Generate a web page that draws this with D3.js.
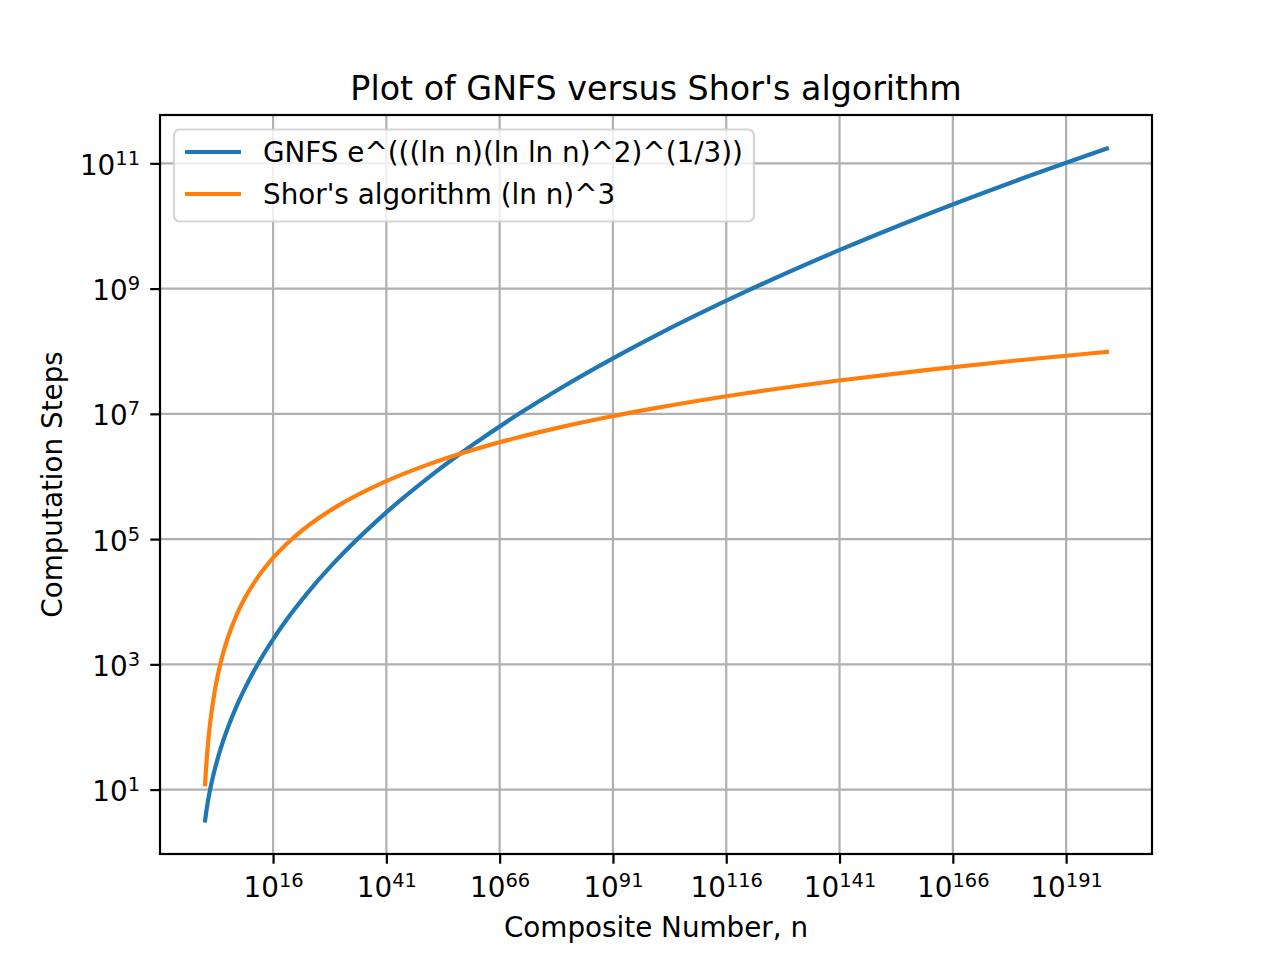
<!DOCTYPE html>
<html>
<head>
<meta charset="utf-8">
<script src="https://cdn.jsdelivr.net/npm/d3@7"></script>
<style>
  body { margin: 0; background: #fff; }
  svg { font-family: 'DejaVu Sans', sans-serif; }
</style>
</head>
<body>
<svg id="chart" width="1280" height="960"></svg>
<script>
// n = 10^k, k listed here
const nExponents = [1, 1.2, 1.5, 2, 3, 4, 5, 6, 8, 10, 13, 16, 20, 25, 30, 40, 50, 60, 70, 80, 90, 100, 120, 140, 160, 180, 200];
const gnfsSteps = [3.22, 4.13, 5.71, 9.08, 19.2, 35.4, 60.2, 96.2, 219, 444,
  1.12e3, 2.50e3, 6.46e3, 1.83e4, 4.61e4, 2.31e5, 9.25e5, 3.17e6, 9.73e6, 2.71e7,
  7.01e7, 1.71e8, 8.75e8, 3.85e9, 1.50e10, 5.28e10, 1.72e11];
const shorSteps = [12.2, 21.1, 41.2, 97.7, 330, 782, 1527, 2636, 6252, 1.22e4,
  2.68e4, 5.00e4, 9.77e4, 1.91e5, 3.30e5, 7.82e5, 1.53e6, 2.64e6, 4.19e6, 6.25e6,
  8.89e6, 1.22e7, 2.11e7, 3.35e7, 5.00e7, 7.11e7, 9.77e7];
const seriesNames = ['GNFS e^(((ln n)(ln ln n)^2)^(1/3))', "Shor's algorithm (ln n)^3"];
const xTickExponents = [16, 41, 66, 91, 116, 141, 166, 191];
const yTickExponents = [1, 3, 5, 7, 9, 11];

const COLORS = ['#1f77b4', '#ff7f0e'];
const plotLeft = 160, plotRight = 1152, plotTop = 115, plotBottom = 854;
const fontSize = 27.8;
const tickLen = 9.7;
const gridColor = '#b0b0b0';

const svg = d3.select('#chart');
svg.append('rect').attr('width', 1280).attr('height', 960).attr('fill', '#fff');

// matplotlib style 5% margins in log space
function paddedLogDomain(vals) {
  let [lo, hi] = d3.extent(vals.map((v) => Math.log10(v)));
  let m = (hi - lo) * 0.05;
  return [Math.pow(10, lo - m), Math.pow(10, hi + m)];
}

const nValues = nExponents.map((k) => Math.pow(10, k));
const x = d3.scaleLog()
  .domain(paddedLogDomain(nValues))
  .range([plotLeft, plotRight]);
const y = d3.scaleLog()
  .domain(paddedLogDomain(gnfsSteps.concat(shorSteps)))
  .range([plotBottom, plotTop]);

// grid
const grid = svg.append('g')
  .attr('stroke', gridColor)
  .attr('stroke-width', 2.2);
xTickExponents.forEach((e) => {
  grid.append('line')
    .attr('x1', x(Math.pow(10, e))).attr('x2', x(Math.pow(10, e)))
    .attr('y1', plotTop).attr('y2', plotBottom);
});
yTickExponents.forEach((e) => {
  grid.append('line')
    .attr('x1', plotLeft).attr('x2', plotRight)
    .attr('y1', y(Math.pow(10, e))).attr('y2', y(Math.pow(10, e)));
});

// curves
const line = d3.line()
  .x((d) => x(d[0]))
  .y((d) => y(d[1]))
  .curve(d3.curveMonotoneX);
[gnfsSteps, shorSteps].forEach((steps, i) => {
  svg.append('path')
    .datum(nValues.map((n, j) => [n, steps[j]]))
    .attr('fill', 'none')
    .attr('stroke', COLORS[i])
    .attr('stroke-width', 4.2)
    .attr('stroke-linecap', 'square')
    .attr('d', line);
});

// power-of-ten tick label
function powerLabel(sel) {
  sel.each(function (d) {
    let t = d3.select(this);
    let e = Math.round(Math.log10(d));
    t.text('');
    t.append('tspan').text('10');
    t.append('tspan')
      .attr('dy', -10)
      .attr('font-size', fontSize * 0.7)
      .text(e);
  });
}

const xAxis = svg.append('g')
  .attr('transform', `translate(0,${plotBottom})`)
  .call(d3.axisBottom(x)
    .tickValues(xTickExponents.map((e) => Math.pow(10, e)))
    .tickSize(tickLen));
xAxis.select('.domain').remove();
xAxis.selectAll('.tick line').attr('stroke', '#000').attr('stroke-width', 2.2);
xAxis.selectAll('.tick text')
  .attr('fill', '#000')
  .attr('font-size', fontSize)
  .attr('font-family', 'DejaVu Sans')
  .attr('y', 43)
  .attr('dy', 0)
  .call(powerLabel);

const yAxis = svg.append('g')
  .attr('transform', `translate(${plotLeft},0)`)
  .call(d3.axisLeft(y)
    .tickValues(yTickExponents.map((e) => Math.pow(10, e)))
    .tickSize(tickLen)
    .tickPadding(10));
yAxis.select('.domain').remove();
yAxis.selectAll('.tick line').attr('stroke', '#000').attr('stroke-width', 2.2);
yAxis.selectAll('.tick text')
  .attr('fill', '#000')
  .attr('font-size', fontSize)
  .attr('font-family', 'DejaVu Sans')
  .attr('x', -20)
  .attr('dy', 11)
  .call(powerLabel);

// spines
svg.append('rect')
  .attr('x', plotLeft).attr('y', plotTop)
  .attr('width', plotRight - plotLeft).attr('height', plotBottom - plotTop)
  .attr('fill', 'none')
  .attr('stroke', '#000')
  .attr('stroke-width', 2.2);

// title & axis labels
svg.append('text')
  .attr('x', (plotLeft + plotRight) / 2).attr('y', 100)
  .attr('text-anchor', 'middle')
  .attr('font-size', 33.3)
  .text("Plot of GNFS versus Shor's algorithm");
svg.append('text')
  .attr('x', (plotLeft + plotRight) / 2).attr('y', 937)
  .attr('text-anchor', 'middle')
  .attr('font-size', fontSize)
  .text('Composite Number, n');
svg.append('text')
  .attr('transform', `translate(62,${(plotTop + plotBottom) / 2}) rotate(-90)`)
  .attr('text-anchor', 'middle')
  .attr('font-size', fontSize)
  .text('Computation Steps');

// legend
const legend = svg.append('g');
const box = legend.append('rect')
  .attr('x', 174).attr('y', 129.5)
  .attr('height', 92)
  .attr('rx', 5.6)
  .attr('fill', 'rgba(255,255,255,0.8)')
  .attr('stroke', 'rgba(204,204,204,0.8)')
  .attr('stroke-width', 2.2);
let maxText = 0;
seriesNames.forEach((name, i) => {
  let cy = 152 + i * 42;
  legend.append('line')
    .attr('x1', 185).attr('x2', 241)
    .attr('y1', cy).attr('y2', cy)
    .attr('stroke', COLORS[i])
    .attr('stroke-width', 4.2);
  let t = legend.append('text')
    .attr('x', 263).attr('y', cy + 10)
    .attr('font-size', fontSize)
    .text(name);
  maxText = Math.max(maxText, t.node().getComputedTextLength());
});
box.attr('width', 263 + maxText + 11 - 174);
</script>
</body>
</html>
